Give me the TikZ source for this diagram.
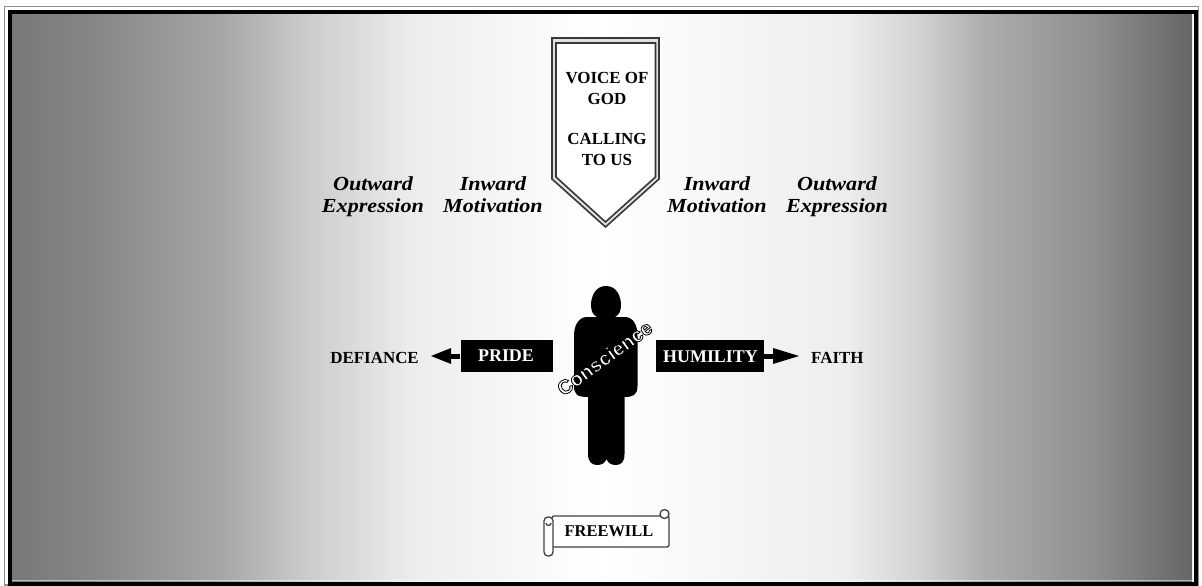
\documentclass[tikz,border=0pt]{standalone}
\usepackage{fontspec}
\setmainfont{Liberation Serif}
\setsansfont{Liberation Sans}
\pgfdeclarehorizontalshading{wallshade}{100bp}{
  color(0bp)=(black!53);
  color(25bp)=(black!53);
  color(28.8bp)=(black!47);
  color(33.9bp)=(black!35);
  color(37.6bp)=(black!20);
  color(42.1bp)=(black!7);
  color(50bp)=(white);
  color(60.4bp)=(black!7);
  color(63.5bp)=(black!18);
  color(66.2bp)=(black!32);
  color(71.1bp)=(black!45);
  color(75bp)=(black!60);
  color(100bp)=(black!60)}
\newcommand{\hollowtext}[1]{\special{pdf:code q 2 Tr 0.8 w 0 G 1 g}#1\special{pdf:code Q}}
\tikzset{
  lbl/.style={font=\bfseries\fontsize{17}{21}\selectfont, align=center, inner sep=0pt},
  sidelbl/.style={font=\bfseries\itshape\fontsize{20}{22}\selectfont, align=center, inner sep=0pt, xscale=1.11},
  barbox/.style={fill=black, inner sep=0pt, minimum height=32bp},
  bartext/.style={text=white, font=\bfseries\fontsize{18}{20}\selectfont, inner sep=0pt},
  outarrow/.style={draw=black, line width=5bp},
  tipshape/.style={fill=black, draw=none},
  bannerline/.style={draw=black!78, line width=1.6bp},
  scrollline/.style={draw=black!75, line width=1.3bp, fill=white}
}
\begin{document}
\begin{tikzpicture}[x=1bp,y=-1bp]
    \useasboundingbox (0,0) rectangle (1202,586);
    \fill[white] (0,0) rectangle (1202,586);
    \shade[shading=wallshade] (10,14) rectangle (1192,581);
    \draw[white, opacity=0.5, line width=1.5bp] (12,580.5) -- (1192,580.5);
    % frame
    \draw[black!45, line width=1.5bp] (4.5,6.5) -- (1198.5,6.5) -- (1198.5,585) -- (4.5,585) -- cycle;
    \draw[black, line width=4bp] (10,12) -- (1196,12) -- (1196,584) -- (10,584) -- cycle;

    % banner
    \draw[bannerline, fill=black!12] (552,38) -- (659,38) -- (659,179) -- (605.5,227) -- (552,179) -- cycle;
    \draw[bannerline, fill=white] (556,43) -- (655.5,43) -- (655.5,177) -- (605.5,222) -- (556,177) -- cycle;
    \node[lbl] (voice) at (607,88.5) {VOICE OF\\GOD};
    \node[lbl] (calling) at (607,149.5) {CALLING\\TO US};

    \node[sidelbl] (outl) at (373,197) {Outward\\Expression};
    \node[sidelbl] (inl) at (493,195) {Inward\\Motivation};
    \node[sidelbl] (inr) at (717,195) {Inward\\Motivation};
    \node[sidelbl] (outr) at (837,197) {Outward\\Expression};

    % figure
    \fill[black] (606,286) .. controls (595,286) and (591,297) .. (591,305)
      .. controls (591,311) and (593,315) .. (597,317) -- (586,317)
      .. controls (578,318) and (574,326) .. (574,336)
      -- (574,386) .. controls (574,395) and (578,397) .. (588,397)
      -- (588,454) .. controls (588,462) and (592,465) .. (597,465)
      .. controls (602,465) and (605,463) .. (606.5,459)
      .. controls (608,463) and (611,465) .. (616,465)
      .. controls (621,465) and (624.5,462) .. (624.5,454)
      -- (624.5,397) .. controls (633,397) and (637.5,395) .. (637.5,386)
      -- (637.5,336) .. controls (637.5,326) and (634,318) .. (626,317) -- (615,317)
      .. controls (619,315) and (621,311) .. (621,305)
      .. controls (621,297) and (617,286) .. (606,286) -- cycle;

    % bars
    \node[barbox, minimum width=92bp] (pride) at (506.5,356) {};
    \node[barbox, minimum width=108bp] (humility) at (710,356) {};
    \node[bartext] (pridetext) at (506,356) {PRIDE};
    \node[bartext] (humilitytext) at (710.5,357) {HUMILITY};
    \coordinate (tipl) at (431,356);
    \coordinate (tipr) at (799,356);
    \draw[outarrow, shorten >=12bp] (pride.west) -- (tipl);
    \draw[outarrow, shorten >=18bp] (humility.east) -- (tipr);
    \fill[tipshape] (tipl) -- ++(20,-8) -- ++(0,16) -- cycle;
    \fill[tipshape] (tipr) -- ++(-26,-8) -- ++(0,16) -- cycle;
    \node[lbl, anchor=east] (defiance) at (419,358) {DEFIANCE};
    \node[lbl, anchor=west] (faith) at (811,358) {FAITH};

    \node[font=\sffamily\bfseries\fontsize{20}{22}\selectfont, rotate=36, inner sep=0pt] (conscience) at (604.5,358) {\hollowtext{Conscience}};

    % scroll
    \draw[scrollline, rounded corners=2bp] (552,516) -- (669,516) -- (669,547) -- (552,547) -- cycle;
    \draw[scrollline] (664.5,514) circle (4.5);
    \draw[scrollline, rounded corners=4bp] (544,517) rectangle (553,556);
    \draw[scrollline, fill=none] (546,523) arc (180:0:2.5);
    \node[lbl, font=\bfseries\fontsize{16.5}{20}\selectfont] (freewill) at (609,531.5) {FREEWILL};
\end{tikzpicture}
\end{document}
